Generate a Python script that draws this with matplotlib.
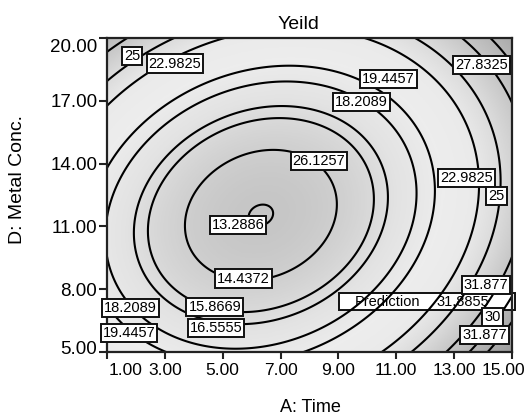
import numpy as np
import matplotlib
matplotlib.use("Agg")
import matplotlib.pyplot as plt
from matplotlib.colors import LinearSegmentedColormap, Normalize
from matplotlib.patches import Rectangle
import matplotlib.transforms as mtransforms

plt.rcParams["font.family"] = ["Liberation Sans", "DejaVu Sans"]

# Factor ranges and ticks
time_range = [1.0, 15.0]
conc_range = [5.0, 20.0]
time_ticks = [1, 3, 5, 7, 9, 11, 13, 15]
conc_ticks = [5, 8, 11, 14, 17, 20]

# Quadratic yield model about its stationary point (scaled factors p, q)
stationary_point = [6.32, 11.54]
factor_scale = [3.457, 4.778]
model_terms = ["1", "p2", "q2", "pq"]
model_coefs = [13.258, 2.10, 2.85, -0.80]

contour_levels = [13.2886, 14.4372, 15.8669, 16.5555, 18.2089, 19.4457,
                  22.9825, 25.0, 27.8325, 30.0, 31.877]

# Contour labels: value and where it sits (A: Time, D: Metal Conc.)
label_values = [25.0, 22.9825, 19.4457, 18.2089, 27.8325, 26.1257, 22.9825,
                25.0, 13.2886, 14.4372, 18.2089, 19.4457, 15.8669, 16.5555,
                31.877, 30.0, 31.877]
label_time = [1.86, 3.35, 10.73, 9.80, 13.94, 8.33, 13.44,
              14.46, 5.53, 5.72, 1.80, 1.76, 4.73, 4.77,
              14.10, 14.33, 14.05]
label_conc = [19.14, 18.78, 18.04, 16.94, 18.71, 14.12, 13.31,
              12.45, 11.07, 8.51, 7.10, 5.91, 7.15, 6.14,
              8.20, 6.65, 5.81]

prediction_value = 31.8855
prediction_box = [9.02, 7.00, 15.10, 7.82]   # time0, conc0, time1, conc1


def yield_model(a, d):
    p = (a - stationary_point[0]) / factor_scale[0]
    q = (d - stationary_point[1]) / factor_scale[1]
    basis = {"1": np.ones_like(p), "p2": p ** 2, "q2": q ** 2, "pq": p * q}
    return sum(c * basis[t] for t, c in zip(model_terms, model_coefs))


a = np.linspace(time_range[0], time_range[1], 400)
d = np.linspace(conc_range[0], conc_range[1], 400)
A, D = np.meshgrid(a, d)
Z = yield_model(A, D)

# grey shading: mid grey at the minimum, pale band, darker at high yield
shade_z = [13.0, 15.0, 17.0, 20.0, 22.5, 25.5, 28.5, 31.5, 35.0]
shade_g = [0.77, 0.83, 0.89, 0.93, 0.92, 0.85, 0.76, 0.68, 0.60]
zmin, zmax = shade_z[0], shade_z[-1]
cmap = LinearSegmentedColormap.from_list(
    "yield_grey",
    [((z - zmin) / (zmax - zmin), (g, g, g)) for z, g in zip(shade_z, shade_g)])

fig = plt.figure(figsize=(5.27, 4.16), dpi=100)
ax = fig.add_axes([107 / 527, 1 - 352 / 416, 405 / 527, 314 / 416])

ax.imshow(Z, extent=[*time_range, *conc_range], origin="lower", aspect="auto",
          cmap=cmap, norm=Normalize(zmin, zmax), interpolation="bilinear",
          zorder=0)

# prediction flag box sits under the contour lines
ax.add_patch(Rectangle((prediction_box[0], prediction_box[1]),
                       prediction_box[2] - prediction_box[0],
                       prediction_box[3] - prediction_box[1],
                       facecolor="white", edgecolor="#111111", linewidth=1.4,
                       clip_on=False, zorder=1))
mid_c = 0.5 * (prediction_box[1] + prediction_box[3])
ax.text(9.55, mid_c, "Prediction", fontsize=10.5, ha="left", va="center",
        zorder=1.5, clip_on=False)
ax.text(12.4, mid_c, f"{prediction_value:g}", fontsize=10.5, ha="left",
        va="center", zorder=1.5, clip_on=False)

ax.contour(A, D, Z, levels=contour_levels, colors="black", linewidths=1.5,
           zorder=2)

for val, t, c in zip(label_values, label_time, label_conc):
    ax.text(t, c, f"{val:g}", fontsize=10.5, ha="center", va="center",
            zorder=3, clip_on=False,
            bbox=dict(boxstyle="square,pad=0.14", facecolor="white",
                      edgecolor="#111111", linewidth=1.4))

ax.set_xlim(*time_range)
ax.set_ylim(*conc_range)
ax.set_xticks(time_ticks)
ax.set_xticklabels([f"{v:.2f}" for v in time_ticks], fontsize=12.5)
ax.set_yticks(conc_ticks)
ax.set_yticklabels([f"{v:.2f}" for v in conc_ticks], fontsize=13.5)
ax.tick_params(axis="x", direction="out", length=5, width=1.5, pad=3,
               color="#222222")
ax.tick_params(axis="y", direction="out", length=6, width=1.5, pad=1,
               color="#222222")
for s in ax.spines.values():
    s.set_linewidth(1.6)
    s.set_color("#222222")

# keep end tick labels inside the frame
xl = ax.get_xticklabels()
xl[0].set_transform(xl[0].get_transform() +
                    mtransforms.ScaledTranslation(0.19, 0, fig.dpi_scale_trans))
xl[-1].set_transform(xl[-1].get_transform() +
                     mtransforms.ScaledTranslation(-0.09, 0, fig.dpi_scale_trans))
yl = ax.get_yticklabels()
yl[0].set_transform(yl[0].get_transform() +
                    mtransforms.ScaledTranslation(0, 0.05, fig.dpi_scale_trans))
yl[-1].set_transform(yl[-1].get_transform() +
                     mtransforms.ScaledTranslation(0, -0.07, fig.dpi_scale_trans))

fig.text(298.5 / 527, 1 - 29 / 416, "Yeild", ha="center", va="baseline",
         fontsize=14)
fig.text(310 / 527, 1 - 407.5 / 416, "A: Time", ha="center", va="center",
         fontsize=13)
fig.text(17.5 / 527, 1 - 180 / 416, "D: Metal Conc.", ha="center",
         va="center", rotation=90, fontsize=14)

fig.savefig("out.png", dpi=100)
